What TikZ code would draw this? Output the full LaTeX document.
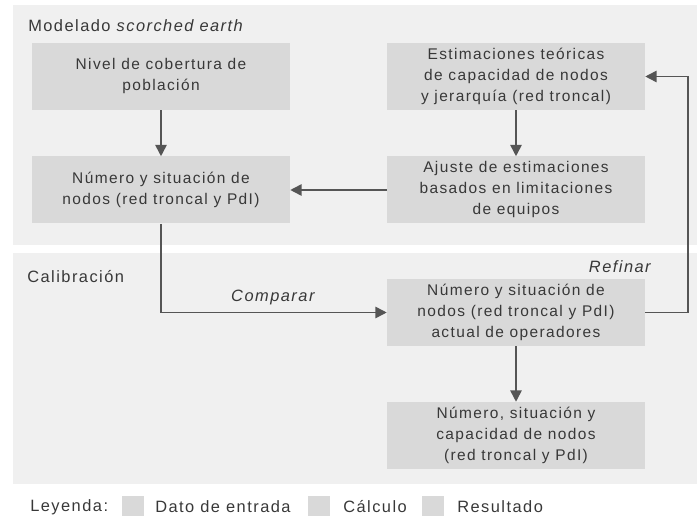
\documentclass[tikz,border=0pt]{standalone}
\usepackage{fontspec}
\setmainfont{Liberation Sans}[LetterSpace=9]
\usetikzlibrary{arrows.meta}
\definecolor{panel}{HTML}{F0F0F0}
\definecolor{boxfill}{HTML}{D9D9D9}
\definecolor{linec}{HTML}{555555}
\definecolor{txt}{HTML}{383838}
\begin{document}
\begin{tikzpicture}[x=0.75pt,y=-0.75pt,
  every node/.style={text=txt, inner sep=0pt},
  proc/.style={fill=boxfill, minimum width=193.5pt, minimum height=50.25pt,
    align=center, font=\fontsize{11.6}{15.75}\selectfont},
  lbl/.style={font=\fontsize{12.3}{14}\selectfont},
  conn/.style={draw=linec, line width=1.2pt, -{Triangle[length=8.5pt,width=8.5pt]}},
  legbox/.style={fill=boxfill, minimum width=16.5pt, minimum height=15.75pt}]
\useasboundingbox (0,0) rectangle (699,516);
\fill[panel] (13,5) rectangle (697,245);
\fill[panel] (13,253) rectangle (697,484);

\node[lbl, anchor=west] (t1) at (28,26) {Modelado \textit{scorched earth}};
\node[lbl, anchor=west] (t2) at (27,277) {Calibración};

\node[proc] (a) at (161,76.5) {Nivel de cobertura de\\población};
\node[proc] (b) at (161,190) {Número y situación de\\nodos (red troncal y PdI)};
\node[proc] (c) at (516,76.5) {Estimaciones teóricas\\de capacidad de nodos\\y jerarquía (red troncal)};
\node[proc] (d) at (516,190) {Ajuste de estimaciones\\basados en limitaciones\\de equipos};
\node[proc] (e) at (516,312.5) {Número y situación de\\nodos (red troncal y PdI)\\actual de operadores};
\node[proc] (f) at (516,435.5) {Número, situación y\\capacidad de nodos\\(red troncal y PdI)};

\coordinate (r) at (688,312.5);
\draw[conn] (a) -- (b);
\draw[conn] (c) -- (d);
\draw[conn] (d) -- (b);
\draw[conn] (b.south) |- (e.west) node[pos=0.75, lbl, above=5pt] (cmp) {\textit{Comparar}};
\draw[conn] (e) -- (f);
\draw[conn] (e.east) -- (r) |- (c.east);
\node[lbl, anchor=east] (ref) at (653,267) {\textit{Refinar}};

\node[lbl, anchor=west] (ley) at (30,507) {Leyenda:};
\node[legbox] (k1) at (133,506) {};
\node[lbl, anchor=west] (l1) at (155,507) {Dato de entrada};
\node[legbox] (k2) at (319,506) {};
\node[lbl, anchor=west] (l2) at (343,507) {Cálculo};
\node[legbox] (k3) at (432.5,506) {};
\node[lbl, anchor=west] (l3) at (457,507) {Resultado};
\end{tikzpicture}
\end{document}
